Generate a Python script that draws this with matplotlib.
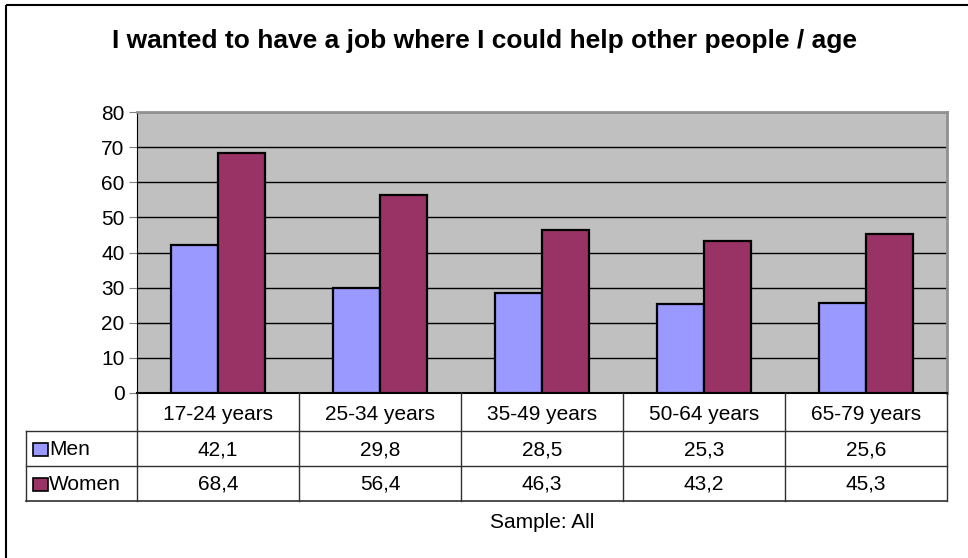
import numpy as np
import matplotlib
matplotlib.use("Agg")
import matplotlib.pyplot as plt
from matplotlib.patches import Rectangle

plt.rcParams['font.family'] = ['Liberation Sans', 'DejaVu Sans']

title = "I wanted to have a job where I could help other people / age"
categories = ["17-24 years", "25-34 years", "35-49 years", "50-64 years", "65-79 years"]
series_names = ["Men", "Women"]
men = [42.1, 29.8, 28.5, 25.3, 25.6]
women = [68.4, 56.4, 46.3, 43.2, 45.3]
series_colors = ["#9999FF", "#993366"]
y_ticks = [0, 10, 20, 30, 40, 50, 60, 70, 80]
footnote = "Sample: All"

W, H = 968, 558
fig = plt.figure(figsize=(W / 100, H / 100), dpi=100)

# plot area, in pixels
px_left, px_right, px_top, px_bottom = 137, 947, 112, 393
ax = fig.add_axes([px_left / W, 1 - px_bottom / H,
                   (px_right - px_left) / W, (px_bottom - px_top) / H])
ax.set_facecolor("#C0C0C0")

x = np.arange(len(categories))
bw = 0.29
ax.bar(x - bw / 2, men, bw, color=series_colors[0], edgecolor="black", linewidth=1.6, zorder=3)
ax.bar(x + bw / 2, women, bw, color=series_colors[1], edgecolor="black", linewidth=1.6, zorder=3)

ax.set_xlim(-0.5, len(categories) - 0.5)
ax.set_ylim(0, 80)
ax.set_yticks(y_ticks)
ax.set_yticklabels([str(t) for t in y_ticks], fontsize=15)
ax.set_xticks([])
ax.yaxis.grid(True, color="black", linewidth=1.0, zorder=1)
ax.tick_params(axis="y", length=6, color="#808080", pad=3)
for side in ["top", "right"]:
    ax.spines[side].set_color("#909090")
    ax.spines[side].set_linewidth(2)
ax.spines["left"].set_color("black")
ax.spines["bottom"].set_color("black")
ax.spines["bottom"].set_linewidth(1.5)

# overlay in pixel coordinates for the data table and frame
ov = fig.add_axes([0, 0, 1, 1], facecolor="none")
ov.set_xlim(0, W)
ov.set_ylim(H, 0)
ov.axis("off")

# chart frame
ov.add_patch(Rectangle((6, 5), W + 20, H + 20, fill=False, edgecolor="black", linewidth=1.5))

ov.text(484, 48, title, ha="center", va="baseline", fontsize=19, fontweight="bold")

col_w = (px_right - px_left) / len(categories)
row_y = [px_bottom, 431, 466, 501]
baselines = [420, 455, 490]
tab_left = 26
lc = "#303030"

# horizontal rules
ov.plot([tab_left, px_right], [row_y[1], row_y[1]], color=lc, lw=1)
ov.plot([tab_left, px_right], [row_y[2], row_y[2]], color=lc, lw=1)
ov.plot([tab_left, px_right], [row_y[3], row_y[3]], color=lc, lw=1.2)
# vertical rules
ov.plot([tab_left, tab_left], [row_y[1], row_y[3]], color=lc, lw=1)
for i in range(len(categories) + 1):
    xx = px_left + i * col_w
    ov.plot([xx, xx], [row_y[0], row_y[3]], color=lc, lw=1)

fmt = lambda v: f"{v:.1f}".replace(".", ",")
for i, cat in enumerate(categories):
    cx = px_left + (i + 0.5) * col_w
    ov.text(cx, baselines[0], cat, ha="center", va="baseline", fontsize=15)
    ov.text(cx, baselines[1], fmt(men[i]), ha="center", va="baseline", fontsize=15)
    ov.text(cx, baselines[2], fmt(women[i]), ha="center", va="baseline", fontsize=15)

for r, (name, col) in enumerate(zip(series_names, series_colors)):
    yc = (row_y[r + 1] + row_y[r + 2]) / 2
    ov.add_patch(Rectangle((33, yc - 6), 15, 13, facecolor=col, edgecolor="black", lw=1.2))
    ov.text(49, baselines[r + 1], name, ha="left", va="baseline", fontsize=15)

ov.text((px_left + px_right) / 2, 528, footnote, ha="center", va="baseline", fontsize=15)

fig.savefig("out.png", dpi=100)
